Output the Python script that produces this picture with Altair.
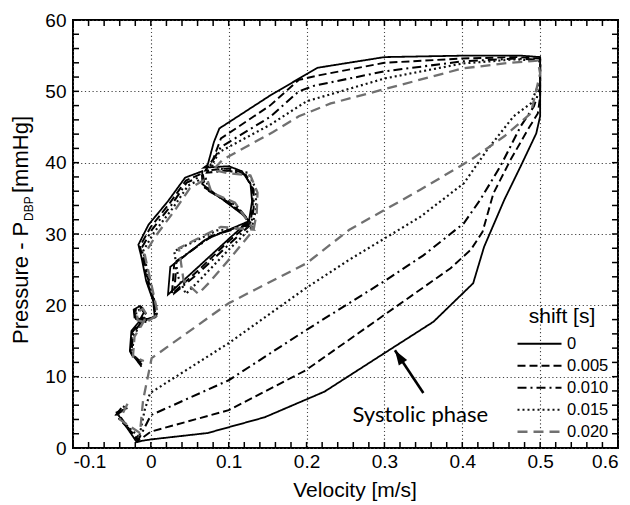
import altair as alt
import pandas as pd

# Pressure-velocity loops for different time shifts between the pressure and velocity signals
shifts = ["0", "0.005", "0.010", "0.015", "0.020"]

loop_0 = [(-0.030, 5.6), (-0.044, 5.0), (-0.018, 0.8), (-0.012, 1.0), (0.000, 1.2), (0.073, 2.1),
          (0.146, 4.3), (0.223, 7.9), (0.300, 13.3), (0.363, 17.7), (0.414, 23.1), (0.428, 28.2),
          (0.454, 34.8), (0.475, 39.5), (0.495, 44.1), (0.500, 46.5), (0.500, 54.8), (0.476, 55.0),
          (0.400, 55.0), (0.300, 54.8), (0.231, 53.6), (0.214, 53.3), (0.153, 49.4), (0.088, 44.8),
          (0.081, 42.9), (0.073, 39.7), (0.068, 39.3), (0.100, 39.5), (0.117, 38.8), (0.128, 37.0),
          (0.130, 34.6), (0.126, 31.8), (0.105, 29.8), (0.060, 25.3), (0.022, 21.5), (0.025, 25.4),
          (0.070, 29.2), (0.126, 31.8), (0.117, 32.8), (0.066, 37.0), (0.066, 38.8), (0.044, 37.9),
          (0.022, 34.6), (-0.003, 31.3), (-0.016, 28.5), (-0.012, 26.7), (-0.006, 23.4), (0.003, 20.6),
          (0.005, 18.3), (-0.010, 18.0), (-0.021, 18.3), (-0.022, 19.4), (-0.014, 19.9), (-0.009, 19.0),
          (-0.016, 17.6), (-0.025, 16.4), (-0.027, 13.6), (-0.012, 11.4)]

loop_005 = [(-0.034, 5.4), (-0.042, 4.8), (-0.017, 1.0), (-0.010, 1.5), (0.000, 2.3), (0.100, 5.3),
            (0.199, 10.9), (0.303, 18.9), (0.385, 25.2), (0.411, 27.8), (0.426, 30.3), (0.440, 35.7),
            (0.462, 40.4), (0.484, 44.6), (0.497, 46.9), (0.500, 49.3), (0.500, 54.6), (0.470, 54.8),
            (0.400, 54.6), (0.300, 54.0), (0.214, 52.2), (0.190, 51.6), (0.153, 48.0), (0.090, 43.4),
            (0.080, 40.5), (0.070, 38.9), (0.100, 39.2), (0.120, 38.5), (0.130, 36.5), (0.131, 34.0),
            (0.128, 31.6), (0.100, 29.0), (0.060, 24.8), (0.027, 21.6), (0.030, 25.8), (0.075, 29.6),
            (0.128, 31.6), (0.115, 33.2), (0.068, 36.6), (0.066, 38.5), (0.045, 37.5), (0.024, 34.3),
            (0.000, 31.0), (-0.014, 28.3), (-0.010, 26.3), (-0.004, 23.1), (0.004, 20.4), (0.006, 18.4),
            (-0.009, 17.9), (-0.020, 18.2), (-0.021, 19.3), (-0.013, 19.8), (-0.008, 18.9), (-0.015, 17.5),
            (-0.024, 16.2), (-0.026, 13.4), (-0.011, 11.6)]

loop_010 = [(-0.038, 5.6), (-0.045, 4.6), (-0.016, 1.2), (-0.012, 2.0), (0.000, 4.6), (0.100, 9.5),
            (0.199, 16.5), (0.303, 23.6), (0.350, 27.0), (0.402, 31.5), (0.423, 34.8), (0.449, 39.5),
            (0.475, 45.1), (0.492, 47.9), (0.500, 50.5), (0.500, 54.4), (0.470, 54.6), (0.400, 54.2),
            (0.300, 52.8), (0.210, 50.8), (0.190, 50.0), (0.153, 46.4), (0.090, 42.2), (0.078, 40.0),
            (0.072, 38.6), (0.100, 38.9), (0.122, 38.3), (0.132, 36.2), (0.132, 33.6), (0.129, 31.4),
            (0.100, 28.5), (0.060, 24.4), (0.030, 21.7), (0.033, 26.2), (0.080, 29.8), (0.129, 31.4),
            (0.113, 33.6), (0.070, 36.3), (0.067, 38.2), (0.046, 37.2), (0.026, 34.0), (0.002, 30.7),
            (-0.012, 28.0), (-0.008, 26.0), (-0.002, 22.9), (0.005, 20.2), (0.007, 18.5), (-0.008, 17.8),
            (-0.019, 18.1), (-0.020, 19.2), (-0.012, 19.7), (-0.007, 18.8), (-0.014, 17.4), (-0.023, 16.0),
            (-0.025, 13.2), (-0.010, 11.8)]

loop_015 = [(-0.034, 5.9), (-0.043, 4.4), (-0.015, 1.5), (-0.008, 5.3), (-0.001, 7.7), (0.100, 14.7),
            (0.199, 22.4), (0.255, 26.4), (0.346, 32.4), (0.402, 37.1), (0.432, 41.8), (0.466, 46.5),
            (0.488, 48.3), (0.500, 51.5), (0.500, 54.2), (0.470, 54.5), (0.400, 53.9), (0.300, 51.8),
            (0.200, 48.6), (0.153, 45.3), (0.088, 41.5), (0.078, 39.6), (0.100, 38.8), (0.125, 38.6),
            (0.135, 36.3), (0.135, 33.4), (0.130, 31.0), (0.100, 27.8), (0.065, 23.8), (0.045, 21.6),
            (0.035, 24.0), (0.030, 27.6), (0.085, 30.5), (0.130, 31.0), (0.110, 34.0), (0.075, 36.0),
            (0.070, 38.0), (0.048, 36.8), (0.028, 33.6), (0.004, 30.2), (-0.010, 27.6), (-0.006, 25.6),
            (0.000, 22.6), (0.006, 20.0), (0.008, 18.6), (-0.007, 17.7), (-0.018, 18.0), (-0.019, 19.1),
            (-0.011, 19.6), (-0.006, 18.7), (-0.013, 17.3), (-0.022, 15.8), (-0.024, 13.0), (-0.010, 12.0)]

loop_020 = [(-0.030, 6.2), (-0.040, 4.0), (-0.014, 2.1), (-0.010, 6.7), (0.001, 12.6), (0.100, 20.3),
            (0.200, 25.9), (0.255, 30.6), (0.346, 36.2), (0.411, 40.4), (0.454, 43.7), (0.488, 46.9),
            (0.500, 52.5), (0.497, 54.3), (0.460, 54.0), (0.400, 53.2), (0.300, 50.3), (0.231, 48.3),
            (0.190, 46.5), (0.157, 44.3), (0.092, 40.4), (0.080, 39.0), (0.100, 38.5), (0.128, 38.2),
            (0.137, 35.8), (0.136, 33.0), (0.132, 30.6), (0.105, 27.0), (0.075, 23.2), (0.061, 21.6),
            (0.042, 23.5), (0.036, 28.0), (0.090, 31.0), (0.132, 30.6), (0.108, 34.4), (0.078, 35.8),
            (0.072, 37.8), (0.050, 36.4), (0.030, 33.2), (0.006, 29.7), (-0.008, 27.2), (-0.004, 25.2),
            (0.002, 22.3), (0.007, 19.8), (0.009, 18.7), (-0.006, 17.6), (-0.017, 17.9), (-0.018, 19.0),
            (-0.010, 19.5), (-0.005, 18.6), (-0.012, 17.2), (-0.021, 15.6), (-0.023, 12.8), (-0.009, 12.2)]

loops = [loop_0, loop_005, loop_010, loop_015, loop_020]

# annotation: arrow pointing at the systolic branch
arrow_v = [0.350, 0.3135]
arrow_p = [7.7, 13.7]
label_v = [0.259]
label_p = [3.7]
label_text = ["Systolic phase"]

# axis ticks
x_major = [-0.1, 0, 0.1, 0.2, 0.3, 0.4, 0.5, 0.6]
y_major = [0, 10, 20, 30, 40, 50, 60]
x_minor = [round(-0.1 + 0.02 * k, 2) for k in range(36)]
y_minor = list(range(0, 61, 2))

rows = []
for s, pts in zip(shifts, loops):
    for i, (v, p) in enumerate(pts):
        rows.append({"shift": s, "i": i, "v": v, "p": p})
df = pd.DataFrame(rows)

W, H = 545, 428
X0, X1, Y0, Y1 = -0.1, 0.6, 0, 60
TICK_PX = 6
tick_dx = TICK_PX * (X1 - X0) / W   # tick length in axis units
tick_dy = TICK_PX * (Y1 - Y0) / H
SANS = "Liberation Sans, Arial, sans-serif"

xscale = alt.Scale(domain=[X0, X1], nice=False, zero=False)
yscale = alt.Scale(domain=[Y0, Y1], nice=False, zero=False)

x_axis = alt.Axis(
    orient="bottom", values=x_major, labelExpr="'' + datum.value", grid=True, ticks=False,
    tickSize=0, domain=False, labelFont=SANS, labelFontSize=19, labelColor="black",
    labelPadding=4, gridColor="#444", gridDash=[1.2, 2.6], gridWidth=1.1,
    title="Velocity [m/s]", titleFont=SANS, titleFontSize=21, titleFontWeight="normal",
    titleColor="black", titleX=281.6, titleY=48, titleBaseline="alphabetic")
y_axis = alt.Axis(
    orient="left", values=y_major, labelExpr="'' + datum.value", grid=True, ticks=False,
    tickSize=0, domain=False, labelFont=SANS, labelFontSize=19, labelColor="black",
    labelPadding=7, gridColor="#444", gridDash=[1.2, 2.6], gridWidth=1.1, title="")

# every layer shares the same x/y definition so the axes merge into one
def X():
    return alt.X("v:Q", scale=xscale, axis=x_axis)

def Y():
    return alt.Y("p:Q", scale=yscale, axis=y_axis)

legend = alt.Legend(
    title="shift [s]", orient="none", legendX=443, legendY=286,
    titleFont=SANS, titleFontSize=21, titleFontWeight="normal", titleColor="black",
    titleAnchor="middle", titlePadding=6, labelFont=SANS, labelFontSize=16.5, labelColor="black",
    labelOffset=4, symbolType="stroke", symbolSize=1936, clipHeight=21.5, rowPadding=0,
    padding=0,
)

# inward minor ticks on the four edges of the frame, each a two-point segment
seg = []
for n, xv in enumerate(x_minor):
    seg += [{"tid": f"b{n}", "k": 0, "v": xv, "p": Y0}, {"tid": f"b{n}", "k": 1, "v": xv, "p": Y0 + tick_dy},
            {"tid": f"t{n}", "k": 0, "v": xv, "p": Y1}, {"tid": f"t{n}", "k": 1, "v": xv, "p": Y1 - tick_dy}]
for n, yv in enumerate(y_minor):
    seg += [{"tid": f"l{n}", "k": 0, "v": X0, "p": yv}, {"tid": f"l{n}", "k": 1, "v": X0 + tick_dx, "p": yv},
            {"tid": f"r{n}", "k": 0, "v": X1, "p": yv}, {"tid": f"r{n}", "k": 1, "v": X1 - tick_dx, "p": yv}]
ticks = alt.Chart(pd.DataFrame(seg)).mark_line(color="black", strokeWidth=1.5).encode(
    x=X(), y=Y(), detail="tid:N", order=alt.Order("k:Q"))

lines = alt.Chart(df).mark_line(strokeCap="butt").encode(
    x=X(), y=Y(),
    color=alt.Color("shift:N", scale=alt.Scale(domain=shifts, range=["#000", "#000", "#000", "#111", "#707070"]),
                    legend=legend),
    strokeDash=alt.StrokeDash("shift:N", scale=alt.Scale(domain=shifts,
                              range=[[1, 0], [8, 4], [9, 4, 2, 4], [2, 3], [10, 6]]), legend=legend),
    strokeWidth=alt.StrokeWidth("shift:N", scale=alt.Scale(domain=shifts, range=[1.8, 2.3, 2.3, 1.9, 1.0]),
                                legend=legend),
    order=alt.Order("i:Q"),
)

arrow_df = pd.DataFrame({"v": arrow_v, "p": arrow_p})
shaft = alt.Chart(arrow_df).mark_line(color="black", strokeWidth=2.6).encode(x=X(), y=Y())
head = alt.Chart(arrow_df.iloc[[1]]).mark_point(
    shape="M0,0L0.62,1.85L-0.62,1.85Z", size=256, angle=327, filled=True, color="black", opacity=1,
).encode(x=X(), y=Y())

label = alt.Chart(pd.DataFrame({"v": label_v, "p": label_p, "t": label_text})).mark_text(
    align="left", baseline="alphabetic", font="Lato", fontSize=22, color="black",
).encode(x=X(), y=Y(), text="t:N")

# y-axis title with subscript, drawn as rotated text pieces
def ytext(txt, x, y, size):
    return alt.Chart(pd.DataFrame({"t": [txt]})).mark_text(
        angle=270, align="left", baseline="alphabetic", font=SANS, fontSize=size, color="black",
    ).encode(text="t:N", x=alt.value(x), y=alt.value(y))

ytitle = ytext("Pressure - P", -45, 324, 22) + ytext("DBP", -40, 201, 12) + ytext("[mmHg]", -45, 173, 22)

chart = alt.layer(
    lines, ticks, shaft, head, label, ytitle
).properties(
    width=W, height=H, autosize=alt.AutoSizeParams(type="none"),
    padding={"left": 73, "top": 20, "right": 12, "bottom": 57},
    background="white",
).configure_view(stroke="black", strokeWidth=2)

chart.save("out.html", embed_options={"renderer": "svg", "actions": False})
